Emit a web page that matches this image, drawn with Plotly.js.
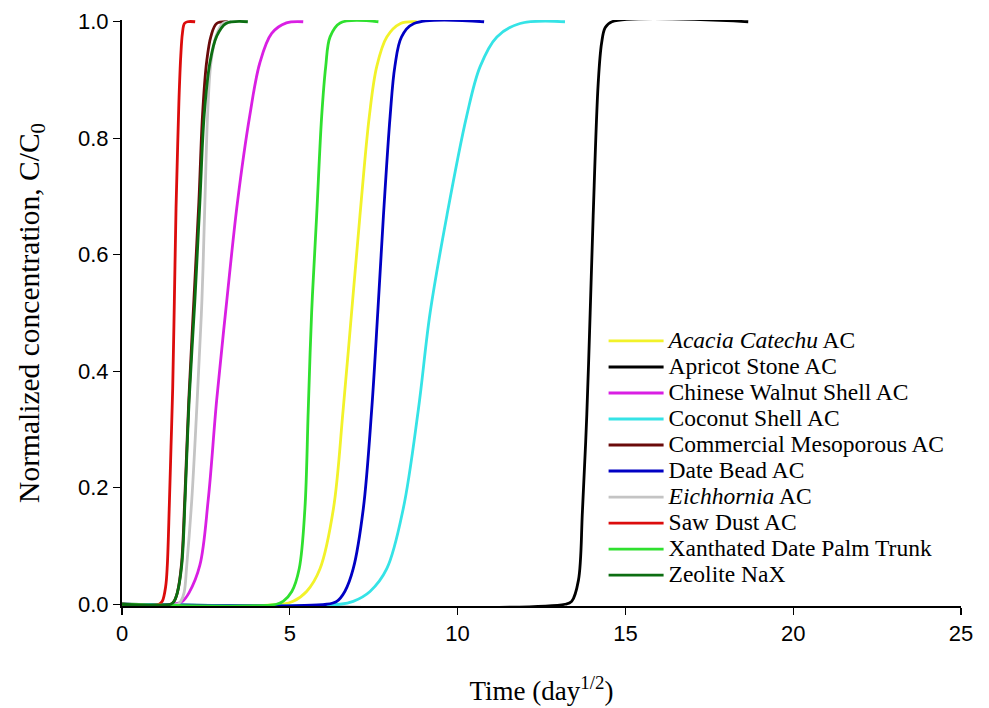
<!DOCTYPE html>
<html>
<head>
<meta charset="utf-8">
<script src="https://cdn.plot.ly/plotly-3.0.1.min.js"></script>
<style>html,body{margin:0;padding:0;background:#fff;}#chart{width:989px;height:708px;}</style>
</head>
<body>
<div id="chart"></div>
<script>
// Series names (legend order)
const names = [
  "<i>Acacia Catechu</i> AC",
  "Apricot Stone AC",
  "Chinese Walnut Shell AC",
  "Coconut Shell AC",
  "Commercial Mesoporous AC",
  "Date Bead AC",
  "<i>Eichhornia</i> AC",
  "Saw Dust AC",
  "Xanthated Date Palm Trunk",
  "Zeolite NaX"
];
const colors = ["#f2f22a","#000000","#d91fe3","#35e3e6","#6a0a0a","#0000c4","#c4c4c4","#dc0c0c","#2fe02f","#0c6e12"];

// Time (day^1/2) and C/C0
const acaciaX = [0, 4.8, 5.1, 5.5, 5.9, 6.3, 6.59, 6.84, 7.09, 7.37, 7.59, 7.89, 8.3, 8.78];
const acaciaY = [0, 0, 0.005, 0.022, 0.061, 0.164, 0.334, 0.5, 0.667, 0.838, 0.923, 0.974, 0.997, 1.0];

const apricotX = [0, 13.2, 13.4, 13.6, 13.72, 13.85, 13.95, 14.04, 14.19, 14.29, 14.4, 14.6, 18.66];
const apricotY = [0, 0, 0.005, 0.041, 0.16, 0.326, 0.5, 0.667, 0.895, 0.963, 0.99, 1.0, 1.0];

const walnutX = [0, 1.55, 1.8, 2.0, 2.32, 2.57, 2.82, 3.12, 3.44, 3.81, 4.11, 4.46, 4.9, 5.4];
const walnutY = [0, 0, 0.005, 0.02, 0.067, 0.18, 0.35, 0.52, 0.69, 0.84, 0.93, 0.98, 0.998, 1.0];

const coconutX = [0, 6.5, 6.89, 7.39, 7.89, 8.38, 8.83, 9.18, 9.68, 10.27, 10.67, 11.17, 11.86, 13.2];
const coconutY = [0, 0, 0.005, 0.022, 0.061, 0.164, 0.334, 0.5, 0.667, 0.838, 0.923, 0.974, 0.997, 1.0];

const commercialX = [0, 1.45, 1.55, 1.65, 1.77, 1.87, 1.99, 2.14, 2.29, 2.40, 2.52, 2.65, 2.82, 3.15];
const commercialY = [0, 0, 0.005, 0.02, 0.067, 0.18, 0.35, 0.52, 0.69, 0.84, 0.93, 0.975, 0.997, 1.0];

const dateBeadX = [0, 6.1, 6.4, 6.64, 6.89, 7.19, 7.44, 7.62, 7.79, 7.99, 8.13, 8.33, 8.7, 10.79];
const dateBeadY = [0, 0, 0.005, 0.022, 0.061, 0.164, 0.334, 0.5, 0.667, 0.838, 0.923, 0.974, 0.997, 1.0];

const eichhorniaX = [0, 1.65, 1.75, 1.85, 1.93, 2.08, 2.24, 2.38, 2.47, 2.55, 2.65, 2.8, 3.0, 3.25];
const eichhorniaY = [0, 0, 0.005, 0.02, 0.067, 0.18, 0.35, 0.52, 0.69, 0.84, 0.93, 0.975, 0.997, 1.0];

const sawDustX = [0, 1.1, 1.2, 1.3, 1.35, 1.41, 1.46, 1.51, 1.56, 1.61, 1.66, 1.70, 1.75, 1.80, 1.86, 1.95, 2.18];
const sawDustY = [0, 0, 0.005, 0.03, 0.067, 0.17, 0.27, 0.37, 0.52, 0.68, 0.79, 0.87, 0.94, 0.98, 0.997, 1.0, 1.0];

const xanthatedX = [0, 4.6, 4.8, 5.06, 5.28, 5.45, 5.55, 5.65, 5.8, 5.95, 6.07, 6.2, 6.5, 7.64];
const xanthatedY = [0, 0, 0.005, 0.022, 0.061, 0.164, 0.334, 0.5, 0.667, 0.838, 0.923, 0.974, 0.998, 1.0];

const zeoliteX = [0, 1.45, 1.55, 1.65, 1.78, 1.88, 2.0, 2.17, 2.32, 2.45, 2.62, 2.82, 3.1, 3.75];
const zeoliteY = [0, 0, 0.005, 0.02, 0.067, 0.18, 0.35, 0.52, 0.69, 0.84, 0.93, 0.975, 0.997, 1.0];

const xTicks = [0, 5, 10, 15, 20, 25];
const yTicks = [0, 0.2, 0.4, 0.6, 0.8, 1.0];

const seriesX = [acaciaX, apricotX, walnutX, coconutX, commercialX, dateBeadX, eichhorniaX, sawDustX, xanthatedX, zeoliteX];
const seriesY = [acaciaY, apricotY, walnutY, coconutY, commercialY, dateBeadY, eichhorniaY, sawDustY, xanthatedY, zeoliteY];

const traces = names.map((n, i) => ({
  x: seriesX[i], y: seriesY[i], type: "scatter", mode: "lines",
  name: '<span style="font-size:23.5px">' + n + '</span>',
  line: {color: colors[i], width: 2.8, shape: "spline", smoothing: 1}
}));

const serif = "'Liberation Serif', 'Times New Roman', serif";
const sans = "'Liberation Sans', Arial, sans-serif";

const layout = {
  width: 989, height: 708,
  margin: {l: 122, r: 28, t: 20, b: 102},
  paper_bgcolor: "#fff", plot_bgcolor: "#fff",
  showlegend: true,
  legend: {
    x: 0.574, y: 0.483, xanchor: "left", yanchor: "top",
    font: {family: serif, size: 17.7, color: "#000"},
    bgcolor: "rgba(0,0,0,0)", tracegroupgap: 0, itemwidth: 55
  },
  xaxis: {
    range: [0, 25], tickvals: xTicks, ticks: "outside", ticklen: 7, tickwidth: 1.3, tickcolor: "#000",
    showline: true, linecolor: "#000", linewidth: 2, showgrid: false, zeroline: false,
    tickfont: {family: sans, size: 22, color: "#000"},
    title: {text: "Time (day<sup>1/2</sup>)", font: {family: serif, size: 27, color: "#000"}, standoff: 36}
  },
  yaxis: {
    range: [-0.003, 1.003], tickvals: yTicks, tickformat: ".1f", ticks: "outside", ticklen: 7, tickwidth: 1.3, tickcolor: "#000",
    showline: true, linecolor: "#000", linewidth: 2, showgrid: false, zeroline: false,
    tickfont: {family: sans, size: 22, color: "#000"},
    title: {text: "Normalized concentration, C/C<sub>0</sub>", font: {family: serif, size: 29.5, color: "#000"}, standoff: 30}
  },
  xaxis2: {
    overlaying: "x", anchor: "y", range: [0, 25], tickvals: xTicks, ticks: "inside", ticklen: 7, tickwidth: 1.3,
    tickcolor: "#000", showticklabels: false, showline: false, showgrid: false, zeroline: false
  },
  yaxis2: {
    overlaying: "y", anchor: "x", range: [-0.003, 1.003], tickvals: yTicks, ticks: "inside", ticklen: 7, tickwidth: 1.3,
    tickcolor: "#000", showticklabels: false, showline: false, showgrid: false, zeroline: false
  }
};

Plotly.newPlot("chart", traces, layout, {displayModeBar: false, staticPlot: true});
</script>
</body>
</html>
